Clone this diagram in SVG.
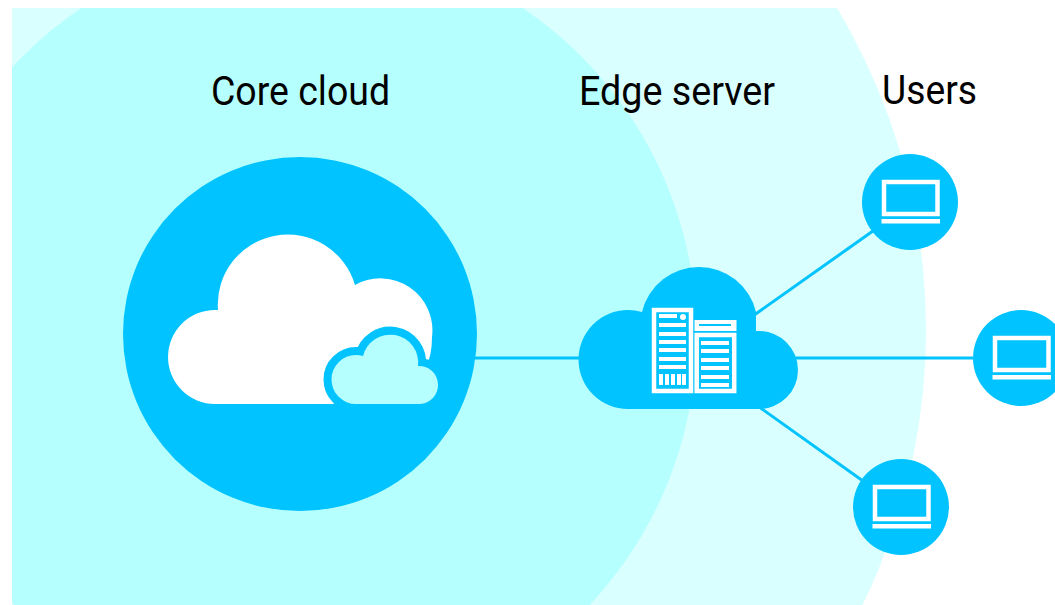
<svg xmlns="http://www.w3.org/2000/svg" width="1055" height="605" viewBox="0 0 1055 605">
<style>
.b{fill:#00c3ff}.w{fill:#fff}
.l{stroke:#00c3ff;stroke-width:3;fill:none}
.t{font-family:Roboto,"Liberation Sans",sans-serif;font-size:41px;fill:#000}
.o{fill:none;stroke:#fff;stroke-width:4.500}
</style>
<defs>
<clipPath id="c"><rect x="12" y="8" width="1043" height="597"/></clipPath>
<g id="lap"><circle class="b" r="48"/><rect class="o" x="-26" y="-20" width="53.500" height="32"/><rect class="w" x="-28.500" y="17" width="58.500" height="4.500"/></g>
</defs>
<rect width="1055" height="605" fill="#fff"/>
<g id="zones" clip-path="url(#c)">
<circle cx="299" cy="330" r="627" fill="#d9ffff"/>
<circle cx="302" cy="335" r="394.500" fill="#b6ffff"/>
</g>
<g id="connectors">
<path class="l" d="M470 358H585"/>
<path class="l" d="M750 318L880 226"/>
<path class="l" d="M790 358H980"/>
<path class="l" d="M755 404L870 486"/>
</g>
<g id="core">
<circle class="b" cx="300" cy="334" r="177"/>
<path class="w" d="M215 404a46.500 46.500 0 0 1 0-94h3a70 70 0 0 1 137-25a52 52 0 0 1 77 52q0 18-6 30L333 404Z"/>
<path d="M356 404a24.500 24.500 0 0 1 0-49q4 0 7 1a28 28 0 0 1 55 10a19 19 0 0 1 2 38Z" fill="#b6ffff" stroke="#00c3ff" stroke-width="16" paint-order="stroke"/>
</g>
<g id="edge">
<path class="b" d="M628 409a49.500 49.500 0 0 1 0-99q7 0 14 2a58.600 58.600 0 0 1 114 0V331h3a39 39 0 0 1 0 78Z"/>
<g class="server">
<rect class="o" x="654" y="310" width="37" height="81"/>
<path class="w" d="M659 314h18v4h-18zM659 323h27v4h-27zM659 332h27v4h-27zM659 340h27v4h-27zM659 348h27v4h-27zM659 357h27v4h-27zM659 365h27v4h-27z"/>
<circle class="w" cx="683" cy="317" r="3"/>
<path class="w" d="M659 374h4v11h-4zM665 374h4v11h-4zM671 374h4v11h-4zM677 374h4v11h-4zM682 374h4v11h-4z"/>
<rect class="w" x="694.500" y="320" width="42" height="11"/>
<rect class="b" x="699" y="324" width="32" height="2"/>
<rect class="o" x="696.700" y="335" width="37.500" height="56"/>
<path class="w" d="M701 341h28v4h-28zM701 349h28v4h-28zM701 358h28v4h-28zM701 366h28v4h-28zM701 375h28v4h-28zM701 383h28v4h-28z"/>
</g>
</g>
<g id="user1"><use href="#lap" x="910" y="202"/></g>
<g id="user2"><use href="#lap" x="1021" y="358"/></g>
<g id="user3"><use href="#lap" x="901" y="507"/></g>
<g id="labels">
<text class="t" x="211" y="105" textLength="179" lengthAdjust="spacingAndGlyphs">Core cloud</text>
<text class="t" x="579" y="105" textLength="196" lengthAdjust="spacingAndGlyphs">Edge server</text>
<text class="t" x="882" y="104" textLength="95" lengthAdjust="spacingAndGlyphs">Users</text>
</g>
</svg>
